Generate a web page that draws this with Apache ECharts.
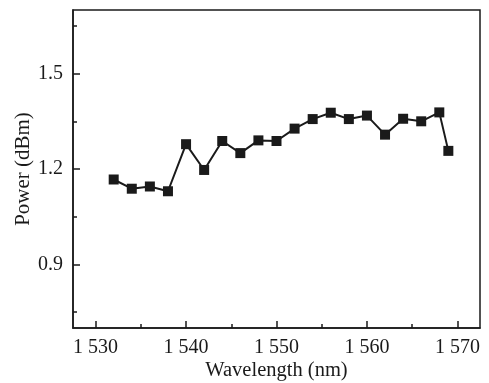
<!DOCTYPE html>
<html>
<head>
<meta charset="utf-8">
<script src="https://cdn.jsdelivr.net/npm/echarts@6/dist/echarts.min.js"></script>
<style>
  html, body { margin: 0; padding: 0; background: #fff; }
  #chart { width: 489px; height: 383px; }
</style>
</head>
<body>
<div id="chart"></div>
<script>
const wavelengths = [1532, 1534, 1536, 1538, 1540, 1542, 1544, 1546, 1548, 1550,
  1552, 1554, 1556, 1558, 1560, 1562, 1564, 1566, 1568, 1569];
const powers = [1.167, 1.138, 1.145, 1.13, 1.278, 1.197, 1.288, 1.25, 1.29, 1.288,
  1.327, 1.357, 1.377, 1.357, 1.368, 1.308, 1.358, 1.35, 1.378, 1.257];
const xMajorTicks = [1530, 1540, 1550, 1560, 1570];
const xMinorTicks = [1535, 1545, 1555, 1565];
const yMajorTicks = [0.9, 1.2, 1.5];
const yMinorTicks = [0.75, 1.05, 1.35, 1.65];

const font = 'Liberation Serif';
const ink = '#1a1a1a';
const chart = echarts.init(document.getElementById('chart'));

const xBase = { type: 'value', min: 1527.5, max: 1572.5, splitLine: { show: false } };
const yBase = { type: 'value', min: 0.7, max: 1.7, splitLine: { show: false } };

chart.setOption({
  animation: false,
  grid: {
    left: 73, top: 10, right: 9, bottom: 55,
    containLabel: false, outerBoundsMode: 'none',
    show: true, borderColor: ink, borderWidth: 1.5
  },
  xAxis: [
    Object.assign({}, xBase, {
      position: 'bottom',
      name: 'Wavelength (nm)',
      nameLocation: 'middle',
      nameGap: 32,
      nameMoveOverlap: false,
      nameTextStyle: { fontFamily: font, fontSize: 20.5, color: ink },
      axisLine: { lineStyle: { color: ink, width: 1.5 } },
      axisTick: { inside: true, length: 7, customValues: xMajorTicks, lineStyle: { color: ink, width: 1.5 } },
      axisLabel: {
        customValues: xMajorTicks, margin: 10,
        fontFamily: font, fontSize: 20, color: ink,
        formatter: v => { const s = String(v); return s[0] + ' ' + s.slice(1); }
      }
    }),
    Object.assign({}, xBase, {
      position: 'bottom',
      axisLine: { show: false },
      axisTick: { inside: true, length: 4, customValues: xMinorTicks, lineStyle: { color: ink, width: 1.5 } },
      axisLabel: { show: false }
    })
  ],
  yAxis: [
    Object.assign({}, yBase, {
      position: 'left',
      name: 'Power (dBm)',
      nameLocation: 'middle',
      nameGap: 39,
      nameMoveOverlap: false,
      nameTextStyle: { fontFamily: font, fontSize: 21, color: ink },
      axisLine: { show: true, lineStyle: { color: ink, width: 1.5 } },
      axisTick: { show: true, inside: true, length: 7, customValues: yMajorTicks, lineStyle: { color: ink, width: 1.5 } },
      axisLabel: {
        customValues: yMajorTicks, margin: 10,
        fontFamily: font, fontSize: 20, color: ink,
        formatter: v => v.toFixed(1)
      }
    }),
    Object.assign({}, yBase, {
      position: 'left',
      axisLine: { show: false },
      axisTick: { show: true, inside: true, length: 4, customValues: yMinorTicks, lineStyle: { color: ink, width: 1.5 } },
      axisLabel: { show: false }
    })
  ],
  series: [{
    type: 'line',
    xAxisIndex: 0,
    yAxisIndex: 0,
    data: wavelengths.map((w, i) => [w, powers[i]]),
    symbol: 'rect',
    symbolSize: 10,
    lineStyle: { color: ink, width: 2 },
    itemStyle: { color: ink }
  }]
});
</script>
</body>
</html>
